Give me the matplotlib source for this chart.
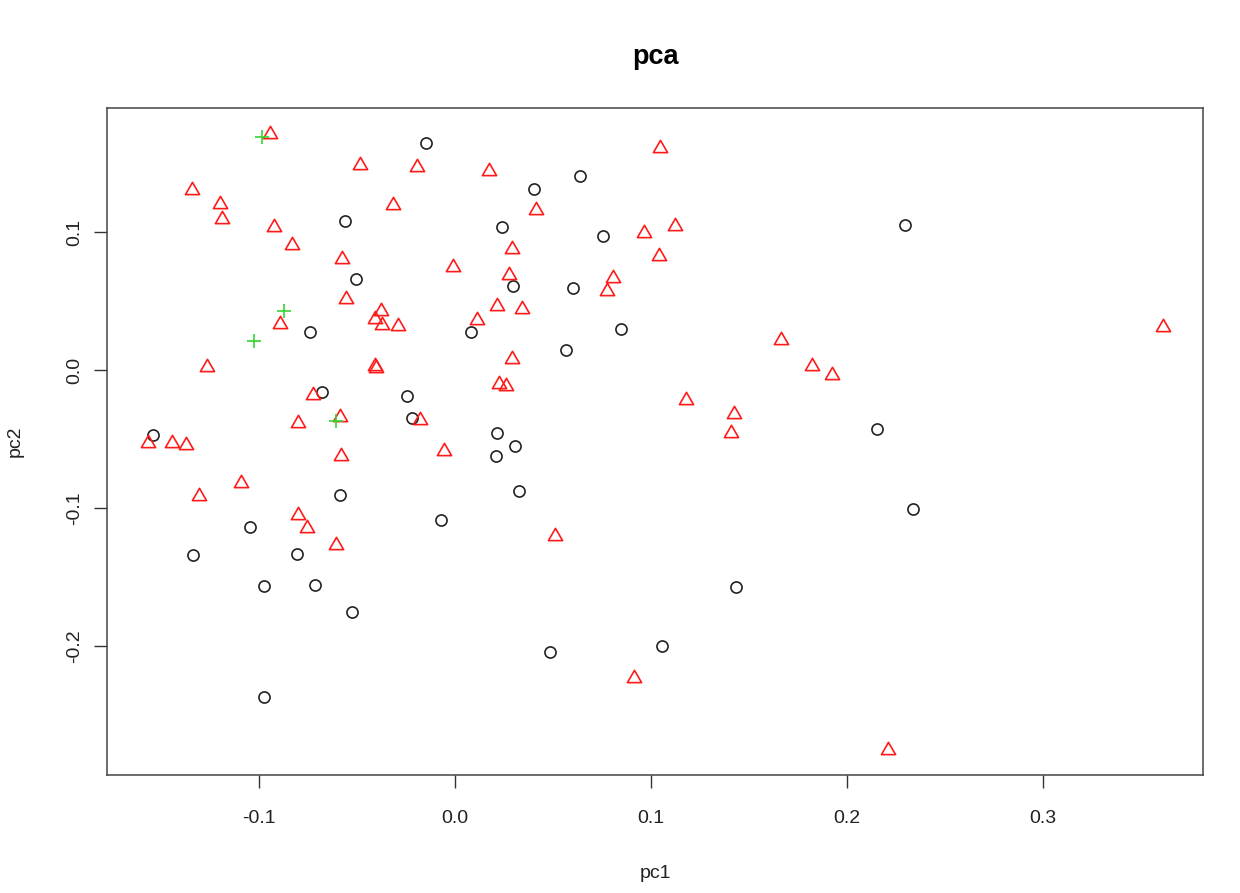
import matplotlib
matplotlib.use("Agg")
import matplotlib.pyplot as plt
from matplotlib.path import Path
import numpy as np

plt.rcParams['font.family'] = ['Liberation Sans', 'DejaVu Sans']

# group 1: black circles
circ_x = [-0.0148, -0.0560, -0.0505, -0.0740, -0.0680, -0.0246, -0.0221, -0.1543,
          -0.0974, -0.1044, -0.1335, -0.0808, -0.0588, -0.0973, -0.0716, -0.0527,
          -0.0071, 0.0403, 0.0638, 0.0240, 0.0755, 0.0294, 0.0601, 0.0083,
          0.0845, 0.0566, 0.0214, 0.0308, 0.0209, 0.0325, 0.1435, 0.0486,
          0.1055, 0.2297, 0.2155, 0.2338]
circ_y = [0.1647, 0.1078, 0.0657, 0.0273, -0.0159, -0.0186, -0.0350, -0.0472,
          -0.2372, -0.1138, -0.1341, -0.1336, -0.0908, -0.1563, -0.1558, -0.1754,
          -0.1087, 0.1314, 0.1406, 0.1038, 0.0971, 0.0611, 0.0592, 0.0273,
          0.0299, 0.0145, -0.0457, -0.0553, -0.0621, -0.0877, -0.1570, -0.2041,
          -0.1998, 0.1053, -0.0430, -0.1007]

# group 2: red triangles
tri_x = [-0.0942, -0.0486, -0.0192, -0.1342, -0.1199, -0.1190, -0.0315, -0.0922,
         -0.0830, -0.0578, -0.0010, -0.0558, -0.0894, -0.0378, -0.0410, -0.0374,
         -0.0292, 0.0111, -0.1267, -0.0408, -0.0403, -0.0726, -0.0803, -0.0587,
         -0.0179, -0.1568, -0.1444, -0.1371, -0.0582, -0.0055, -0.1092, -0.1306,
         -0.0803, -0.0754, -0.0609, 0.1046, 0.0175, 0.0415, 0.0966, 0.1124,
         0.1042, 0.0291, 0.0276, 0.0806, 0.0774, 0.0213, 0.0340, 0.0289,
         0.0226, 0.0260, 0.1665, 0.1823, 0.1923, 0.1179, 0.1423, 0.1407,
         0.0512, 0.0912, 0.3611, 0.2211]
tri_y = [0.1722, 0.1502, 0.1486, 0.1317, 0.1220, 0.1111, 0.1212, 0.1051,
         0.0918, 0.0821, 0.0761, 0.0527, 0.0350, 0.0442, 0.0382, 0.0338,
         0.0333, 0.0375, 0.0036, 0.0041, 0.0029, -0.0164, -0.0373, -0.0326,
         -0.0350, -0.0514, -0.0514, -0.0527, -0.0611, -0.0575, -0.0802, -0.0896,
         -0.1034, -0.1130, -0.1251, 0.1623, 0.1454, 0.1176, 0.1007, 0.1058,
         0.0838, 0.0893, 0.0703, 0.0683, 0.0585, 0.0478, 0.0459, 0.0096,
         -0.0085, -0.0101, 0.0234, 0.0041, -0.0020, -0.0205, -0.0307, -0.0442,
         -0.1188, -0.2215, 0.0326, -0.2739]

# group 3: green plus
plus_x = [-0.0983, -0.0871, -0.1024, -0.0607]
plus_y = [0.1691, 0.0430, 0.0212, -0.0370]

x_ticks = [-0.1, 0.0, 0.1, 0.2, 0.3]
x_ticklabels = ["-0.1", "0.0", "0.1", "0.2", "0.3"]
y_ticks = [-0.2, -0.1, 0.0, 0.1]
y_ticklabels = ["-0.2", "-0.1", "0.0", "0.1"]

fig = plt.figure(figsize=(12.4, 8.93), dpi=100)
ax = fig.add_axes([107/1240, 1-775/893, (1203-107)/1240, (775-108)/893])

tri_path = Path([(0, 1), (-1.155, -1), (1.155, -1), (0, 1)],
                [Path.MOVETO, Path.LINETO, Path.LINETO, Path.CLOSEPOLY])

ax.plot(circ_x, circ_y, linestyle='none', marker='o', ms=8.0, mfc='none',
        mec='#222222', mew=1.2)
ax.plot(tri_x, tri_y, linestyle='none', marker=tri_path, ms=10.2, mfc='none',
        mec='#ff1a1a', mew=1.2)
ax.plot(plus_x, plus_y, linestyle='none', marker='+', ms=9.8,
        mec='#33d633', mew=1.2)

ax.set_xlim(-0.17755, 0.38163)
ax.set_ylim(-0.29348, 0.18986)

ax.set_xticks(x_ticks)
ax.set_xticklabels(x_ticklabels)
ax.set_yticks(y_ticks)
ax.set_yticklabels(y_ticklabels, rotation=90, va='center')
ax.tick_params(axis='both', direction='out', length=9.4, width=1.0,
               color='#333333', labelsize=14, labelcolor='#222222')
ax.tick_params(axis='x', pad=15.5)
ax.tick_params(axis='y', pad=8)
for s in ax.spines.values():
    s.set_color('#444444')
    s.set_linewidth(1.1)

ax.set_xlabel('pc1', fontsize=14, color='#222222')
ax.xaxis.set_label_coords(0.5, (775-873)/667)
ax.xaxis.label.set_va('center')
ax.set_ylabel('pc2', fontsize=14, color='#222222')
ax.yaxis.set_label_coords((15-107)/1096, 0.5)
ax.yaxis.label.set_va('center')

ax.text(0.5, (775-57)/667, 'pca', transform=ax.transAxes, ha='center',
        va='center', fontsize=19.5, fontweight='bold')

fig.savefig('out.png', dpi=100)
